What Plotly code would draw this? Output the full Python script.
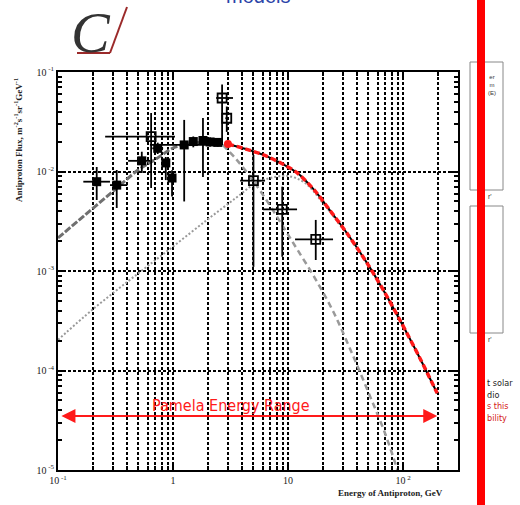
import numpy as np
import plotly.graph_objects as go

# ---------------- data ----------------
# model curves (Energy GeV, flux m^-2 s^-1 sr^-1 GeV^-1)
rise_E = [0.1, 0.172, 0.3, 0.5, 0.7, 1.04, 1.5, 2.0, 2.7]
rise_F = [2.15e-3, 3.66e-3, 6.3e-3, 1.04e-2, 1.32e-2, 1.76e-2, 1.92e-2, 1.96e-2, 1.85e-2]

fall_E = [2.7, 3.5, 5.0, 7.0, 9.4, 12, 17, 25, 35, 50, 70, 95]
fall_F = [1.85e-2, 1.35e-2, 8.0e-3, 4.5e-3, 2.6e-3, 1.65e-3, 8.6e-4, 3.8e-4, 1.6e-4, 6.0e-5, 2.3e-5, 8.0e-6]

dot_E = [0.1, 0.2, 0.5, 1.0, 2.0, 3.5, 5.2, 7.0, 10, 14, 20, 30]
dot_F = [2.03e-4, 4.1e-4, 9.5e-4, 1.76e-3, 3.3e-3, 5.4e-3, 7.6e-3, 8.6e-3, 9.0e-3, 7.7e-3, 4.85e-3, 2.65e-3]

red_E = [3.0, 4.3, 6.1, 8.5, 12, 17, 23, 33, 48.6, 68, 94, 140, 198]
red_F = [1.89e-2, 1.68e-2, 1.47e-2, 1.23e-2, 9.7e-3, 6.45e-3, 4.1e-3, 2.34e-3, 1.2e-3, 6.3e-4, 3.2e-4, 1.33e-4, 5.9e-5]

# measured points: filled
fill_E = [0.217, 0.324, 0.535, 0.736, 0.865, 0.98, 1.25, 1.5, 1.82, 2.1, 2.45]
fill_F = [7.9e-3, 7.3e-3, 1.28e-2, 1.71e-2, 1.22e-2, 8.6e-3, 1.85e-2, 2.0e-2, 2.05e-2, 1.98e-2, 1.96e-2]
fill_Elo = [0.166, 0.283, 0.407, 0.66, 0.80, 0.92, 0.63, 1.38, 1.7, 1.95, 2.3]
fill_Ehi = [0.283, 0.40, 0.631, 0.82, 0.93, 1.05, 2.67, 1.62, 1.95, 2.3, 2.62]
fill_Flo = [5.17e-3, 4.3e-3, 9.66e-3, 1.5e-2, 8.2e-3, 5.6e-3, 5.0e-3, 1.75e-2, 8.8e-3, 1.78e-2, 1.78e-2]
fill_Fhi = [1.11e-2, 1.035e-2, 1.58e-2, 1.95e-2, 1.4e-2, 1.03e-2, 3.3e-2, 2.25e-2, 3.45e-2, 2.2e-2, 2.15e-2]

# measured points: open
open_E = [0.645, 2.67, 2.93, 5.0, 8.9, 17.4]
open_F = [2.24e-2, 5.48e-2, 3.43e-2, 8.09e-3, 4.17e-3, 2.08e-3]
open_Elo = [0.257, 2.37, 2.85, 3.83, 6.06, 11.5]
open_Ehi = [1.04, 3.32, 3.0, 6.31, 11.97, 24.6]
open_Flo = [6.83e-3, 1.85e-2, 2.5e-2, 1.1e-3, 1.39e-3, 1.29e-3]
open_Fhi = [3.87e-2, 7.5e-2, 4.5e-2, 1.466e-2, 7.04e-3, 3.26e-3]

pamela_range = [0.104, 198]
pamela_level = 3.49e-5

x_tickvals = [0.1, 1, 10, 100]
x_ticktext = ["10<sup> -1</sup>", "1", "10", "10<sup> 2</sup>"]
y_tickvals = [1e-1, 1e-2, 1e-3, 1e-4, 1e-5]
y_ticktext = ["10<sup> -1</sup>", "10<sup> -2</sup>", "10<sup> -3</sup>", "10<sup> -4</sup>", "10<sup> -5</sup>"]

# ---------------- figure ----------------
L, R, T, B, W, H = 58, 62, 72, 35, 520, 505
PW, PH = W - L - R, H - T - B


def px(xp):
    return (xp - L) / PW


def py(yp):
    return (H - B - yp) / PH


def err(vals, lo, hi):
    v = np.array(vals)
    return dict(type="data", symmetric=False, array=list(np.array(hi) - v),
                 arrayminus=list(v - np.array(lo)), color="black", thickness=1.8, width=0)


fig = go.Figure()

fig.add_trace(go.Scatter(x=dot_E, y=dot_F, mode="lines", line=dict(color="#9a9a9a", width=2, dash="2px,2px", shape="spline")))
fig.add_trace(go.Scatter(x=rise_E, y=rise_F, mode="lines", line=dict(color="#707070", width=3, dash="7px,2px", shape="spline")))
fig.add_trace(go.Scatter(x=fall_E, y=fall_F, mode="lines", line=dict(color="#9a9a9a", width=2.5, dash="6px,4px", shape="spline")))
fig.add_trace(go.Scatter(x=red_E, y=red_F, mode="lines", line=dict(color="black", width=2, shape="spline", smoothing=0.8)))
fig.add_trace(go.Scatter(x=red_E, y=red_F, mode="lines", line=dict(color="#ff1a1a", width=3.5, dash="6px,3px", shape="spline", smoothing=0.8)))
fig.add_trace(go.Scatter(x=red_E[:1], y=red_F[:1], mode="markers", marker=dict(color="#ff1a1a", size=8, symbol="circle")))

fig.add_trace(go.Scatter(x=fill_E, y=fill_F, mode="markers",
                         marker=dict(symbol="square", size=9, color="black"),
                         error_x=err(fill_E, fill_Elo, fill_Ehi), error_y=err(fill_F, fill_Flo, fill_Fhi)))
fig.add_trace(go.Scatter(x=open_E, y=open_F, mode="markers",
                         marker=dict(symbol="square-open", size=9, color="black", line=dict(width=1.8)),
                         error_x=err(open_E, open_Elo, open_Ehi), error_y=err(open_F, open_Flo, open_Fhi)))

x_minor = [m * 10.0 ** d for d in range(-1, 3) for m in range(2, 10) if m * 10.0 ** d < 300]
y_minor = [m * 10.0 ** d for d in range(-5, -1) for m in range(2, 10)]

grid_dash = "3px,2px"
fig.update_xaxes(type="log", range=[-1, np.log10(300)], showline=True, linewidth=2, linecolor="black",
                 mirror="allticks", ticks="inside", ticklen=8, tickwidth=1.5, tickcolor="black",
                 tickmode="array", tickvals=x_tickvals, ticktext=x_ticktext,
                 tickfont=dict(family="Liberation Serif", size=10, color="#222"),
                 showgrid=True, gridcolor="black", griddash=grid_dash, gridwidth=1.5, zeroline=False,
                 minor=dict(tickmode="array", tickvals=x_minor, ticks="inside", ticklen=4, tickcolor="black",
                            showgrid=True, gridcolor="black", griddash=grid_dash, gridwidth=1.5))
fig.update_yaxes(type="log", range=[-5, -1], showline=True, linewidth=2, linecolor="black",
                 mirror="allticks", ticks="inside", ticklen=8, tickwidth=1.5, tickcolor="black",
                 tickmode="array", tickvals=y_tickvals, ticktext=y_ticktext,
                 tickfont=dict(family="Liberation Serif", size=10, color="#222"),
                 showgrid=True, gridcolor="black", griddash=grid_dash, gridwidth=1.5, zeroline=False,
                 minor=dict(tickmode="array", tickvals=y_minor, ticks="inside", ticklen=4, tickcolor="black",
                            showgrid=False))


def note(xp, yp, text, size, color, family="Liberation Sans", xanchor="center", yanchor="middle", **kw):
    return dict(x=px(xp), y=py(yp), xref="paper", yref="paper", text=text, showarrow=False,
                xanchor=xanchor, yanchor=yanchor, font=dict(family=family, size=size, color=color), **kw)


narrow = "Liberation Sans Narrow, DejaVu Sans Condensed, Liberation Sans"
side_text = ("t solar<br>dio<br><span style='color:#d42020'>s this</span><br>"
             "<span style='color:#d42020'>bility</span>")
annotations = [
    # Pamela range arrow
    dict(x=np.log10(pamela_range[1]), y=np.log10(pamela_level), ax=np.log10(pamela_range[0]),
         ay=np.log10(pamela_level), xref="x", yref="y", axref="x", ayref="y", text="",
         showarrow=True, arrowhead=2, startarrowhead=2, arrowside="end+start", arrowsize=1.4,
         arrowwidth=2, arrowcolor="#ff1a1a"),
    note(231, 405, "Pamela Energy Range", 16, "#ff1a1a", family=narrow),
    # axis titles
    note(18, 140, "<b>Antiproton Flux, m<sup>-2</sup>s<sup>-1</sup>sr<sup>-1</sup>GeV<sup>-1</sup></b>",
         9, "#222", family="Liberation Serif", textangle=-90),
    note(390, 493, "<b>Energy of Antiproton, GeV</b>", 9, "#222", family="Liberation Serif"),
    # slide decorations
    note(91, 33, "<i>C</i>", 58, "#333", family="Liberation Serif"),
    note(258, 9, "models", 20, "#2b44a8", yanchor="bottom"),
    note(485, 376, side_text, 9, "#222", family=narrow, xanchor="left", yanchor="top", align="left"),
    note(486, 72, "er<br>m<br>(E)", 6, "#333", xanchor="left", yanchor="top"),
    note(486, 196, "r'", 7, "#333", xanchor="left"),
    note(486, 339, "r'", 7, "#333", xanchor="left"),
]

shapes = [
    dict(type="line", xref="paper", yref="paper", x0=px(77), y0=py(53), x1=px(110), y1=py(53),
         line=dict(color="#9b2a2a", width=2)),
    dict(type="line", xref="paper", yref="paper", x0=px(110), y0=py(53), x1=px(127), y1=py(7),
         line=dict(color="#9b2a2a", width=2)),
    dict(type="rect", xref="paper", yref="paper", x0=px(470), y0=py(62), x1=px(503), y1=py(190),
         line=dict(color="#888", width=1)),
    dict(type="rect", xref="paper", yref="paper", x0=px(470), y0=py(206), x1=px(503), y1=py(333),
         line=dict(color="#888", width=1)),
    dict(type="line", xref="paper", yref="paper", x0=px(481), y0=py(0), x1=px(481), y1=py(505),
         line=dict(color="#ff0000", width=8)),
]

fig.update_layout(width=W, height=H, margin=dict(l=L, r=R, t=T, b=B), showlegend=False,
                  paper_bgcolor="white", plot_bgcolor="white",
                  annotations=annotations, shapes=shapes)

fig.write_html("out.html")
